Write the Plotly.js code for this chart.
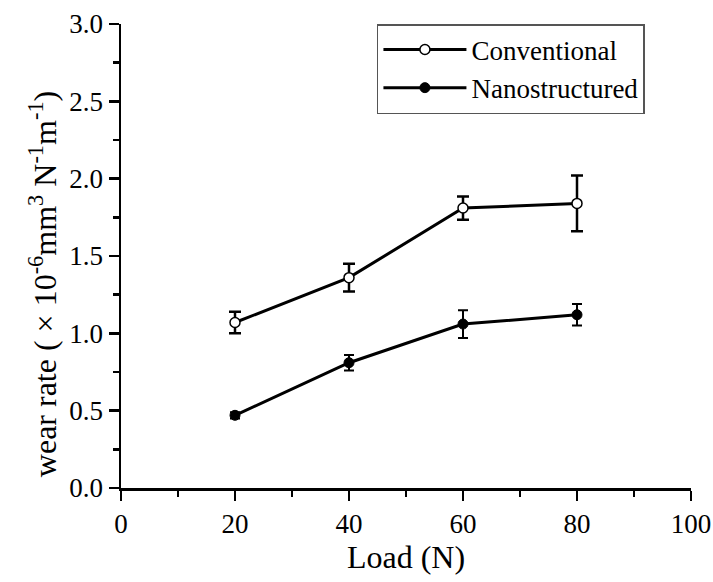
<!DOCTYPE html>
<html>
<head>
<meta charset="utf-8">
<script src="https://cdn.plot.ly/plotly-3.0.1.min.js"></script>
<style>
  html, body { margin: 0; padding: 0; background: #fff; }
  #chart { width: 713px; height: 582px; }
</style>
</head>
<body>
<div id="chart"></div>
<script>
const loads = [20, 40, 60, 80];
const conventional = [1.07, 1.36, 1.81, 1.84];
const conventionalErr = [0.07, 0.09, 0.075, 0.18];
const nanostructured = [0.47, 0.81, 1.06, 1.12];
const nanostructuredErr = [0.02, 0.05, 0.09, 0.07];
const seriesNames = ['Conventional', 'Nanostructured'];
const xTitle = 'Load (N)';
const yTitle = 'wear rate ( × 10<sup>-6</sup>mm<sup>3</sup> N<sup>-1</sup>m<sup>-1</sup>)';

const FONT = '"Liberation Serif", "Times New Roman", Times, serif';

const traces = [
  {
    x: loads, y: conventional, name: seriesNames[0], type: 'scatter', mode: 'lines+markers',
    line: { color: '#000', width: 3 },
    marker: { symbol: 'circle', size: 10, color: '#fff', line: { color: '#000', width: 1.5 } },
    error_y: { type: 'data', array: conventionalErr, visible: true, color: '#000', thickness: 2.5, width: 6 }
  },
  {
    x: loads, y: nanostructured, name: seriesNames[1], type: 'scatter', mode: 'lines+markers',
    line: { color: '#000', width: 3 },
    marker: { symbol: 'circle', size: 10, color: '#000', line: { color: '#000', width: 1 } },
    error_y: { type: 'data', array: nanostructuredErr, visible: true, color: '#000', thickness: 2, width: 5 }
  }
];

const layout = {
  width: 713, height: 582,
  margin: { l: 121, r: 22, t: 24, b: 94 },
  paper_bgcolor: '#fff', plot_bgcolor: '#fff',
  font: { family: FONT, color: '#000', size: 27 },
  showlegend: true,
  legend: {
    x: 0.449, y: 1.0, xanchor: 'left', yanchor: 'top',
    bordercolor: '#555', borderwidth: 1.5, bgcolor: '#fff',
    font: { family: FONT, size: 27, color: '#000' },
    itemwidth: 83, tracegroupgap: 0
  },
  xaxis: {
    range: [0, 100], dtick: 20, tick0: 0,
    showline: true, linecolor: '#000', linewidth: 2.5,
    ticks: 'outside', ticklen: 10, tickwidth: 2.5, tickcolor: '#000',
    minor: { dtick: 10, ticks: 'outside', ticklen: 6, tickwidth: 2.5, tickcolor: '#000', showgrid: false },
    showgrid: false, zeroline: false, mirror: false,
    tickfont: { family: FONT, size: 27, color: '#000' },
    title: { text: xTitle, font: { family: FONT, size: 32, color: '#000' }, standoff: 7 }
  },
  yaxis: {
    range: [0, 3], dtick: 0.5, tick0: 0, tickformat: '.1f',
    showline: true, linecolor: '#000', linewidth: 2.5,
    ticks: 'outside', ticklen: 10, tickwidth: 2.5, tickcolor: '#000',
    minor: { dtick: 0.25, ticks: 'outside', ticklen: 6, tickwidth: 2.5, tickcolor: '#000', showgrid: false },
    showgrid: false, zeroline: false, mirror: false,
    tickfont: { family: FONT, size: 27, color: '#000' }
  },
  annotations: [
    {
      text: yTitle, textangle: -90, showarrow: false,
      xref: 'paper', yref: 'paper', x: -0.138, y: 0.44, xanchor: 'center', yanchor: 'middle',
      font: { family: FONT, size: 32, color: '#000' }
    }
  ]
};

Plotly.newPlot('chart', traces, layout, { displayModeBar: false, staticPlot: true });
</script>
</body>
</html>
